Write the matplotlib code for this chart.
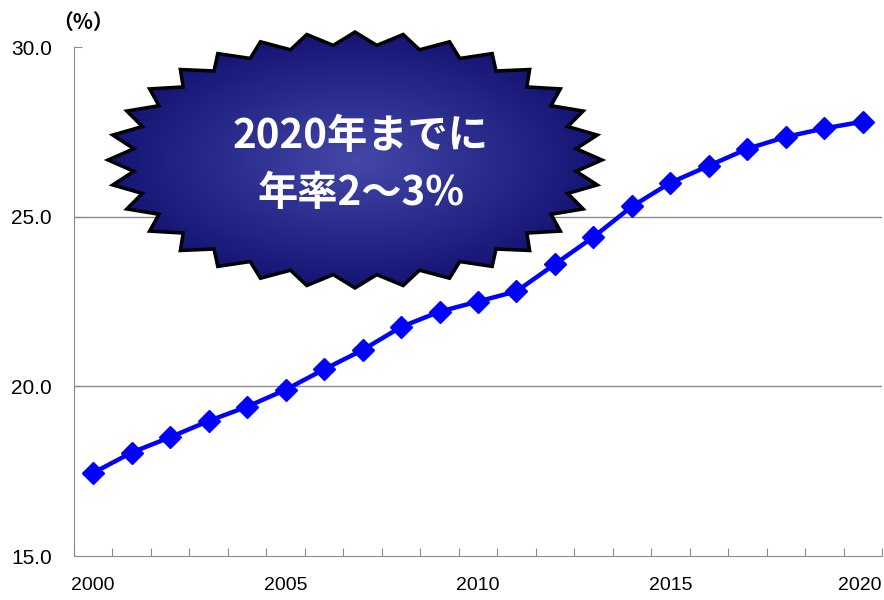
import numpy as np
import matplotlib
matplotlib.use("Agg")
import matplotlib.pyplot as plt
from matplotlib.patches import Polygon

plt.rcParams['font.family'] = ['Liberation Sans Narrow', 'Liberation Sans', 'DejaVu Sans']

# data
years = list(range(2000, 2021))
share = [17.45, 18.05, 18.5, 18.98, 19.4, 19.9, 20.5, 21.07, 21.75, 22.2,
         22.5, 22.8, 23.6, 24.4, 25.3, 26.0, 26.5, 27.0, 27.35, 27.6, 27.8]
y_ticks = [15.0, 20.0, 25.0, 30.0]
x_labels = {2000: "2000", 2005: "2005", 2010: "2010", 2015: "2015", 2020: "2020"}
callout = "2020年までに\n年率2～3%"

W, H = 884, 600
fig = plt.figure(figsize=(W / 100, H / 100), dpi=100)
ax = fig.add_axes([74 / W, 44 / H, 808 / W, 509 / H])

x = np.arange(len(years))
ax.plot(x, share, color="#0000ff", lw=3.2, marker="D", ms=11,
        markeredgecolor="#0000ff", solid_joinstyle="round", zorder=3)

ax.set_xlim(-0.5, len(years) - 0.5)
ax.set_ylim(15, 30)
ax.set_yticks(y_ticks)
ax.set_yticklabels([f"{v:.1f}" for v in y_ticks], fontsize=15)
for v in y_ticks[1:3]:
    ax.axhline(v, color="#8c8c8c", lw=1, zorder=1)

ax.set_xticks(np.arange(len(years) + 1) - 0.5)
ax.set_xticklabels([])
ax.set_xticks([years.index(k) for k in x_labels], minor=True)
ax.set_xticklabels(list(x_labels.values()), minor=True, fontsize=14)
ax.tick_params(axis="x", which="major", direction="in", length=6, color="#8c8c8c")
ax.tick_params(axis="x", which="minor", length=0, pad=15)
ax.tick_params(axis="y", direction="in", length=6, color="#8c8c8c", pad=16)
# last label sits at the right edge, nudge it inside like the original
last = ax.get_xticklabels(minor=True)[-1]
last.set_horizontalalignment("right")
last.set_x(last.get_position()[0])
from matplotlib.transforms import ScaledTranslation
last.set_transform(last.get_transform() + ScaledTranslation(19 / 100, 0, fig.dpi_scale_trans))

for s in ["top", "right"]:
    ax.spines[s].set_visible(False)
for s in ["left", "bottom"]:
    ax.spines[s].set_color("#8c8c8c")

fig.text(52 / W, 1 - 22 / H, "（%）", fontsize=15, fontweight="bold",
         family=["Noto Sans CJK JP", "DejaVu Sans"], va="center", ha="left")

# starburst callout in pixel coordinates
ov = fig.add_axes([0, 0, 1, 1], facecolor="none")
ov.set_xlim(0, W)
ov.set_ylim(H, 0)
ov.axis("off")

cx, cy, a, b = 355, 160, 247, 128
n = 32
ang = np.linspace(0, 2 * np.pi, 2 * n, endpoint=False)
rad = np.where(np.arange(2 * n) % 2 == 0, 1.0, 0.9)
px = cx + a * rad * np.cos(ang)
py = cy + b * rad * np.sin(ang)
star = Polygon(np.column_stack([px, py]), closed=True, facecolor="none",
               edgecolor="black", lw=2.5, zorder=5)
ov.add_patch(star)

gx, gy = np.meshgrid(np.linspace(-1, 1, 200), np.linspace(-1, 1, 200))
r = np.clip(np.sqrt(gx ** 2 + gy ** 2), 0, 1)
c_in = np.array([0x44, 0x48, 0xa8]) / 255
c_out = np.array([0x14, 0x14, 0x74]) / 255
img = c_in[None, None, :] * (1 - r[..., None]) + c_out[None, None, :] * r[..., None]
im = ov.imshow(img, extent=[cx - a, cx + a, cy + b, cy - b], zorder=4,
               aspect="auto")
im.set_clip_path(star)

ov.text(361, 165, callout, color="white", fontsize=29, fontweight="bold",
        family=["Noto Sans CJK JP", "DejaVu Sans"], ha="center", va="center",
        linespacing=1.5, zorder=6)

fig.savefig("out.png", dpi=100)
